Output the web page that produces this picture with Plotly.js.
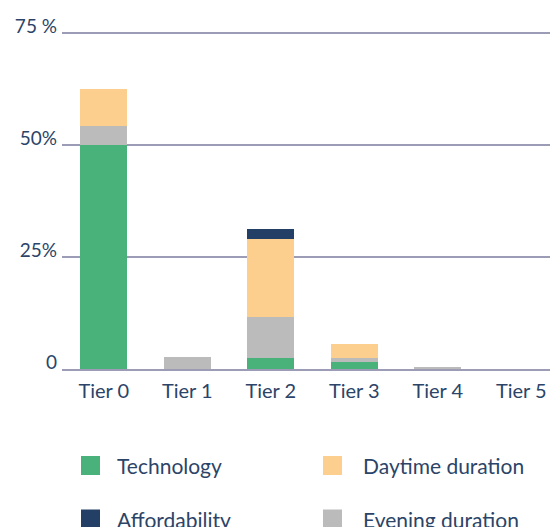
<!DOCTYPE html>
<html>
<head>
<meta charset="utf-8">
<script src="https://cdn.plot.ly/plotly-3.0.1.min.js"></script>
<style>html,body{margin:0;padding:0;background:#fff;}#chart{width:550px;height:527px;}</style>
</head>
<body>
<div id="chart"></div>
<script>
var categories = ["Tier 0", "Tier 1", "Tier 2", "Tier 3", "Tier 4", "Tier 5"];
var technology = [50.0, 0, 2.5, 1.6, 0, 0];
var evening = [4.2, 2.7, 9.0, 0.9, 0.5, 0];
var daytime = [8.3, 0, 17.5, 3.1, 0, 0];
var affordability = [0, 0, 2.2, 0, 0, 0];
var seriesNames = ["Technology", "Evening duration", "Daytime duration", "Affordability"];
var seriesColors = ["#48b27a", "#bbbbbb", "#fdcf8f", "#243f66"];
var yTickVals = [0, 25, 50, 75];
var yTickText = ["0", "25%", "50%", "75 %"];
var legendOrder = ["Technology", "Daytime duration", "Affordability", "Evening duration"];

var textColor = "#2b4468";
var fontFam = "Lato, 'Open Sans', sans-serif";
var seriesValues = [technology, evening, daytime, affordability];

var traces = seriesValues.map(function (vals, i) {
  return {
    type: "bar",
    x: categories,
    y: vals,
    name: seriesNames[i],
    marker: { color: seriesColors[i], line: { width: 0 } },
    showlegend: false,
    hoverinfo: "x+y+name"
  };
});

var L = 62, R = 0, T = 31, B = 158, W = 550, H = 527;
var pw = W - L - R, ph = H - T - B;
function px2x(px) { return (px - L) / pw; }
function py2y(py) { return (H - B - py) / ph; }

var shapes = [];
var annotations = [];
var colX = [81, 323];
var textX = [115, 361];
var rowY = [465.5, 519];
legendOrder.forEach(function (nm, k) {
  var idx = seriesNames.indexOf(nm);
  var col = k % 2, row = Math.floor(k / 2);
  shapes.push({
    type: "rect", xref: "paper", yref: "paper",
    x0: px2x(colX[col]), x1: px2x(colX[col] + 19),
    y0: py2y(rowY[row] + 9.5), y1: py2y(rowY[row] - 9.5),
    fillcolor: seriesColors[idx], line: { width: 0 }
  });
  annotations.push({
    xref: "paper", yref: "paper",
    x: px2x(textX[col]), y: py2y(rowY[row]),
    xanchor: "left", yanchor: "middle",
    text: nm, showarrow: false,
    font: { family: fontFam, size: 21, color: textColor }
  });
});

var layout = {
  width: 550, height: 527,
  margin: { l: L, r: R, t: T, b: B, pad: 0 },
  paper_bgcolor: "#ffffff",
  plot_bgcolor: "#ffffff",
  barmode: "stack",
  bargap: 0.437,
  font: { family: fontFam, color: textColor, size: 20 },
  xaxis: {
    type: "category",
    range: [-0.5, 5.344],
    showgrid: false,
    zeroline: false,
    showline: true,
    linecolor: "#9c9cb6",
    linewidth: 1.5,
    ticks: "",
    ticklabelstandoff: 3,
    tickfont: { family: fontFam, size: 20, color: textColor },
    fixedrange: true
  },
  yaxis: {
    range: [0, 75.45],
    tickvals: yTickVals,
    ticktext: yTickText,
    showgrid: true,
    gridcolor: "#9c9cb6",
    gridwidth: 1.2,
    zeroline: false,
    showline: false,
    ticks: "",
    ticklabelshift: -7,
    ticklabelstandoff: 4,
    tickfont: { family: fontFam, size: 19, color: textColor },
    fixedrange: true
  },
  shapes: shapes,
  annotations: annotations
};

Plotly.newPlot("chart", traces, layout, { displayModeBar: false, staticPlot: true });
</script>
</body>
</html>
